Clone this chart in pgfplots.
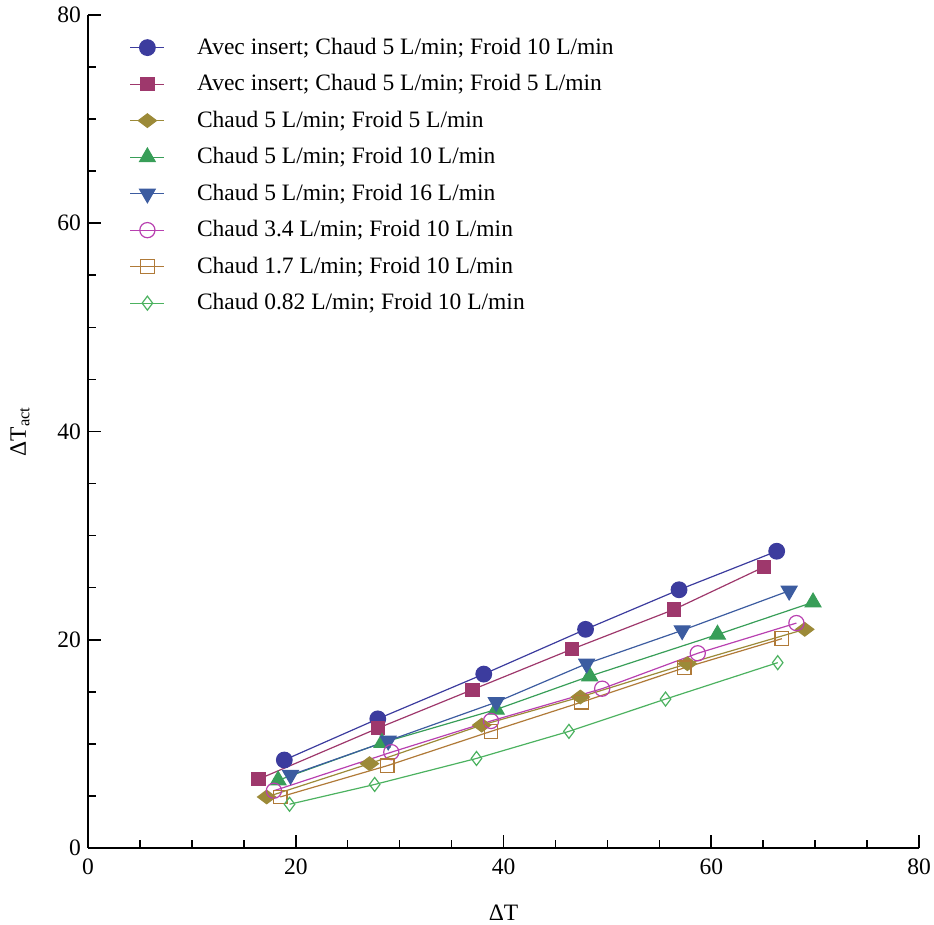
\documentclass[border=0pt]{standalone}
\usepackage{pgfplots}
\pgfplotsset{compat=1.18}
\usepackage{fontspec}
\setmainfont{Liberation Serif}
\definecolor{cA}{RGB}{60,60,158}
\definecolor{cB}{RGB}{158,56,108}
\definecolor{cC}{RGB}{156,138,56}
\definecolor{cD}{RGB}{56,158,88}
\definecolor{cE}{RGB}{60,92,160}
\definecolor{cF}{RGB}{184,64,176}
\definecolor{cG}{RGB}{176,122,56}
\definecolor{cH}{RGB}{76,178,96}
\begin{document}
\begin{tikzpicture}
\begin{axis}[
  scale only axis,
  width=415.5pt, height=416.5pt,
  xmin=0, xmax=80, ymin=0, ymax=80,
  axis x line*=bottom, axis y line*=left,
  axis line style={-, line width=0.8pt},
  xtick={0,20,...,80}, ytick={0,20,...,80},
  minor x tick num=3, minor y tick num=3,
  tick align=inside,
  major tick length=6.5pt, minor tick length=3.8pt,
  tick style={line width=0.8pt, black},
  /pgf/number format/assume math mode=true,
  tick label style={font=\fontsize{11.75}{13}\selectfont},
  xticklabel style={yshift=-2pt},
  xlabel={ΔT}, ylabel={ΔT\textsubscript{act}},
  label style={font=\fontsize{11.75}{13}\selectfont},
  xlabel style={at={([yshift=-32.5pt]axis description cs:0.5,0)}, anchor=center},
  ylabel style={at={([xshift=-34pt]axis description cs:0,0.5)}, anchor=center},
  legend cell align=left,
  legend style={draw=none, fill=none, at={(axis cs:3.4,78.6)}, anchor=north west,
    font=\fontsize{11.75}{13}\selectfont, row sep=4.6pt,
    /tikz/every odd column/.append style={column sep=14pt}},
  every axis plot/.append style={line width=0.6pt},
]
\addplot[color=cA, mark=*, mark size=3.9pt] coordinates {
(18.9,8.45) (27.9,12.4) (38.1,16.7) (47.9,21.0) (56.9,24.8) (66.3,28.5)};
\addlegendentry{Avec insert; Chaud 5 L/min; Froid 10 L/min}
\addplot[color=cB, mark=square*, mark size=3.3pt] coordinates {
(16.4,6.6) (27.9,11.5) (37.0,15.2) (46.6,19.1) (56.4,22.9) (65.1,27.0)};
\addlegendentry{Avec insert; Chaud 5 L/min; Froid 5 L/min}
\addplot[color=cC, mark=diamond*, mark size=4.5pt, mark options={rotate=90}] coordinates {
(17.2,4.9) (27.1,8.1) (37.9,11.8) (47.4,14.5) (57.7,17.7) (69.0,21.0)};
\addlegendentry{Chaud 5 L/min; Froid 5 L/min}
\addplot[color=cD, mark=triangle*, mark size=4.5pt] coordinates {
(18.3,6.5) (28.3,10.1) (39.3,13.3) (48.3,16.5) (60.6,20.5) (69.8,23.6)};
\addlegendentry{Chaud 5 L/min; Froid 10 L/min}
\addplot[color=cE, mark=triangle*, mark size=4.5pt, mark options={rotate=180}] coordinates {
(19.5,7.0) (28.9,10.3) (39.3,14.0) (48.0,17.7) (57.2,20.9) (67.5,24.7)};
\addlegendentry{Chaud 5 L/min; Froid 16 L/min}
\addplot[color=cF, mark=o, mark size=3.8pt] coordinates {
(17.9,5.5) (29.2,9.2) (38.8,12.2) (49.5,15.3) (58.7,18.7) (68.2,21.6)};
\addlegendentry{Chaud 3.4 L/min; Froid 10 L/min}
\addplot[color=cG, mark=square, mark size=3.4pt] coordinates {
(18.5,4.9) (28.8,7.9) (38.8,11.2) (47.5,14.0) (57.4,17.3) (66.8,20.1)};
\addlegendentry{Chaud 1.7 L/min; Froid 10 L/min}
\addplot[color=cH, mark=diamond, mark size=3.5pt] coordinates {
(19.4,4.2) (27.6,6.1) (37.4,8.6) (46.3,11.2) (55.6,14.3) (66.4,17.8)};
\addlegendentry{Chaud 0.82 L/min; Froid 10 L/min}
\end{axis}
\pgfresetboundingbox
\path[use as bounding box] ([shift={(-44pt,-38.5pt)}]current axis.south west) rectangle ([shift={(7.5pt,7.5pt)}]current axis.north east);
\end{tikzpicture}
\end{document}
